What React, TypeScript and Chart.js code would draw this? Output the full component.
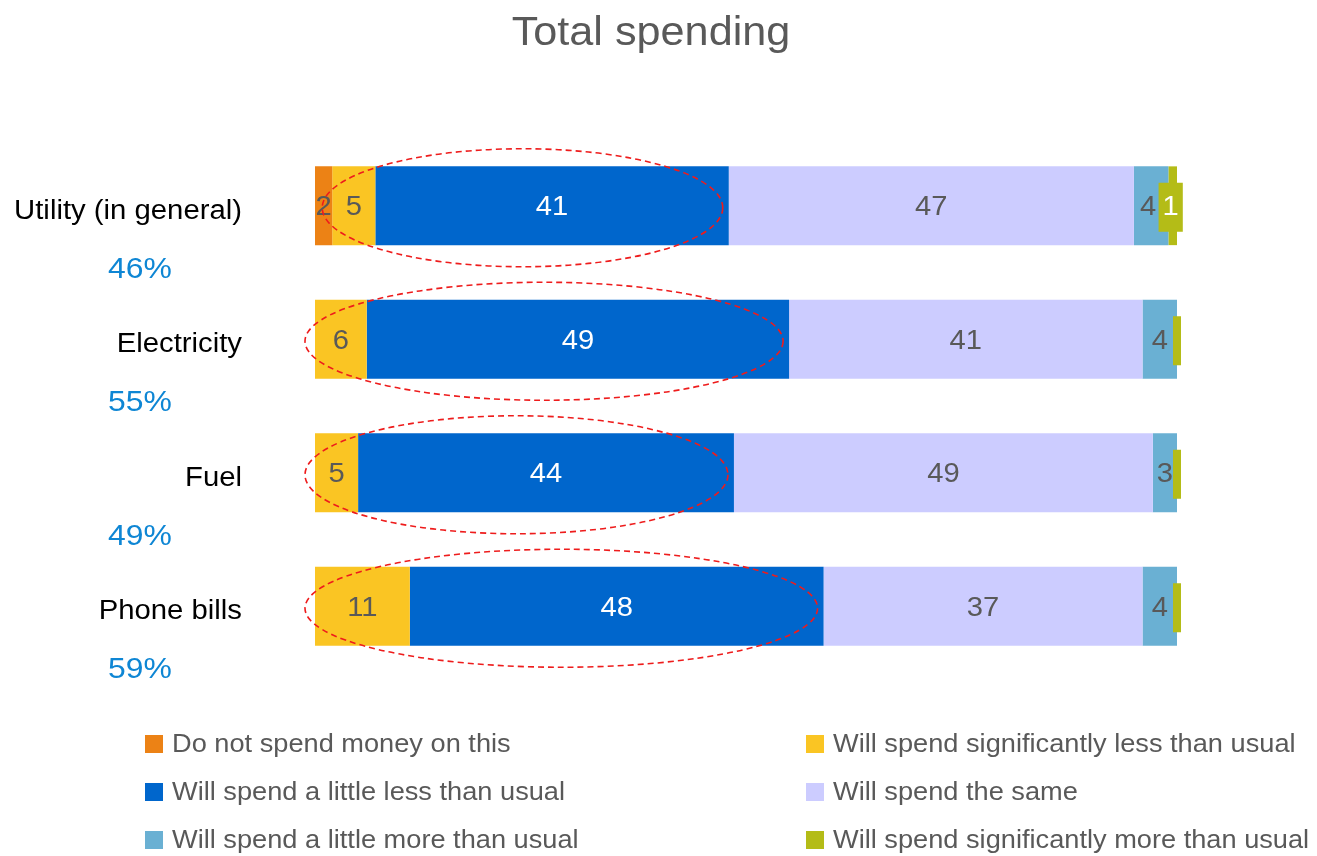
import React, { useEffect, useRef } from "react";
import { Chart, registerables } from "chart.js";

Chart.register(...registerables);

const titleText = "Total spending";
const categories = ["Utility (in general)", "Electricity", "Fuel", "Phone bills"];
const shareLabels = ["46%", "55%", "49%", "59%"];

const seriesNames = [
  "Do not spend money on this",
  "Will spend significantly less than usual",
  "Will spend a little less than usual",
  "Will spend the same",
  "Will spend a little more than usual",
  "Will spend significantly more than usual",
];
const doNotSpend = [2, 0, 0, 0];
const sigLess = [5, 6, 5, 11];
const littleLess = [41, 49, 43.6, 48];
const same = [47, 41, 48.6, 37];
const littleMore = [4, 4, 2.8, 4];
const sigMore = [1, 0, 0, 0];

const seriesColors = ["#EC8215", "#FAC523", "#0066CC", "#CCCCFF", "#6AB0D3", "#B4BC17"];
const labelColors = ["#595959", "#595959", "#FFFFFF", "#595959", "#595959", "#FFFFFF"];

const FONT = '"Liberation Sans", Arial, sans-serif';

function stretchedText(ctx: any, txt: string, x: number, y: number, sx: number) {
  ctx.save();
  ctx.translate(x, y);
  ctx.scale(sx, 1);
  ctx.fillText(txt, 0, 0);
  ctx.restore();
}

const overlayPlugin = {
  id: "overlay",
  afterDatasetsDraw(chart: any) {
    const ctx = chart.ctx;
    const x = chart.scales.x;
    ctx.save();
    chart.data.datasets.forEach((ds: any, di: number) => {
      const meta = chart.getDatasetMeta(di);
      meta.data.forEach((el: any, i: number) => {
        const v = ds.data[i];
        const cx = (el.x + el.base) / 2;
        const cy = el.y;
        ctx.font = `27px ${FONT}`;
        ctx.textAlign = "center";
        ctx.textBaseline = "middle";
        if (di === 5) {
          const txt = v > 0 ? String(Math.round(v)) : "";
          const w = ctx.measureText(txt).width * 1.08 + 8;
          const bx = txt ? cx - 2 : cx;
          ctx.fillStyle = seriesColors[5];
          ctx.fillRect(bx - w / 2, cy - 23, w, 49);
          if (txt) {
            ctx.fillStyle = labelColors[5];
            stretchedText(ctx, txt, bx, cy + 2, 1.08);
          }
          return;
        }
        if (v <= 0) return;
        ctx.fillStyle = labelColors[di];
        const off = di === 4 && chart.data.datasets[5].data[i] > 0 ? -3 : 0;
        stretchedText(ctx, String(Math.round(v)), cx + off, cy + 2, 1.08);
      });
    });
    const meta0 = chart.getDatasetMeta(0);
    ctx.strokeStyle = "#EE1C1C";
    ctx.lineWidth = 1.6;
    ctx.setLineDash([6, 4]);
    meta0.data.forEach((el: any, i: number) => {
      const xs = x.getPixelForValue(doNotSpend[i]);
      const xe = x.getPixelForValue(doNotSpend[i] + sigLess[i] + littleLess[i]);
      const cx = (xs + xe) / 2 - 8;
      const rx = (xe - xs) / 2 + 2;
      ctx.beginPath();
      ctx.ellipse(cx, el.y + 2, rx, 59, 0, 0, Math.PI * 2);
      ctx.stroke();
    });
    ctx.restore();
  },
  afterDraw(chart: any) {
    const ctx = chart.ctx;
    ctx.save();
    ctx.fillStyle = "#595959";
    ctx.font = `40px ${FONT}`;
    ctx.textAlign = "center";
    ctx.textBaseline = "alphabetic";
    stretchedText(ctx, titleText, 651, 45, 1.08);
    const meta0 = chart.getDatasetMeta(0);
    meta0.data.forEach((el: any, i: number) => {
      ctx.font = `27px ${FONT}`;
      ctx.fillStyle = "#000000";
      ctx.textAlign = "right";
      stretchedText(ctx, categories[i], 242, el.y + 13, 1.085);
      ctx.font = `29px ${FONT}`;
      ctx.fillStyle = "#0E86D4";
      ctx.textAlign = "center";
      stretchedText(ctx, shareLabels[i], 140, el.y + 72, 1.1);
    });
    ctx.font = `26px ${FONT}`;
    ctx.textAlign = "left";
    seriesNames.forEach((name, k) => {
      const col = k % 2;
      const row = Math.floor(k / 2);
      const bx = col === 0 ? 145 : 806;
      const by = 735 + row * 48;
      ctx.fillStyle = seriesColors[k];
      ctx.fillRect(bx, by, 18, 18);
      ctx.fillStyle = "#595959";
      stretchedText(ctx, name, bx + 27, by + 17, 1.046);
    });
    ctx.restore();
  },
};

export default function App() {
  const ref = useRef<HTMLCanvasElement | null>(null);
  useEffect(() => {
    if (!ref.current) return;
    const values = [doNotSpend, sigLess, littleLess, same, littleMore, sigMore];
    const chart = new Chart(ref.current, {
      type: "bar",
      data: {
        labels: categories,
        datasets: values.map((d, k) => ({
          label: seriesNames[k],
          data: d,
          backgroundColor: seriesColors[k],
          borderWidth: 0,
          barPercentage: 0.59,
          categoryPercentage: 1,
        })),
      },
      options: {
        indexAxis: "y",
        responsive: false,
        animation: false,
        layout: { padding: { left: 315, right: 140, top: 139, bottom: 183 } },
        scales: {
          x: { stacked: true, min: 0, max: 100, display: false },
          y: { stacked: true, display: false },
        },
        plugins: {
          legend: { display: false },
          title: { display: false },
          tooltip: { enabled: false },
        },
      },
      plugins: [overlayPlugin],
    } as any);
    return () => chart.destroy();
  }, []);
  return (
    <canvas
      ref={ref}
      width={1317}
      height={856}
      style={{ position: "fixed", left: 0, top: 0, display: "block", background: "#fff" }}
    />
  );
}
